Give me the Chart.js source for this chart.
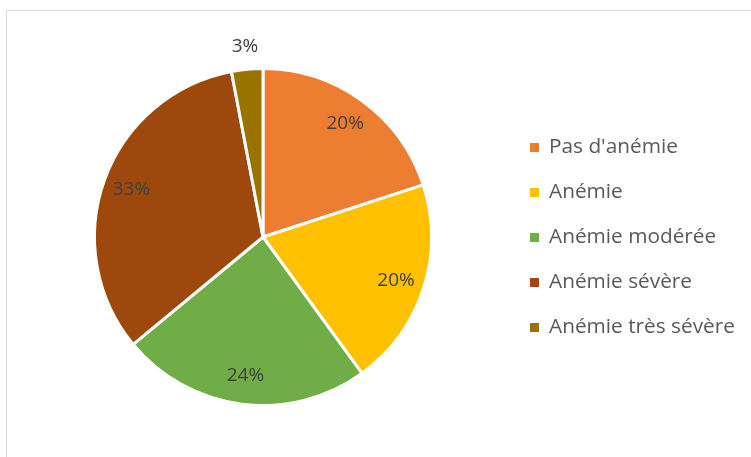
<!DOCTYPE html>
<html>
<head>
<meta charset="utf-8">
<script src="https://cdn.jsdelivr.net/npm/chart.js@4.4.1/dist/chart.umd.min.js"></script>
<style>
  html, body { margin: 0; padding: 0; background: #fff; }
  #wrap { position: relative; width: 751px; height: 457px; overflow: hidden; }
  #frame { position: absolute; left: 6px; top: 10px; width: 800px; height: 500px; border: 1px solid #d9d9d9; box-sizing: border-box; }
  canvas { position: absolute; left: 0; top: 0; }
</style>
</head>
<body>
<div id="wrap">
  <div id="frame"></div>
  <canvas id="pie" width="751" height="457"></canvas>
</div>
<script>
// categories + values (percent)
const categories = ["Pas d'anémie", 'Anémie', 'Anémie modérée', 'Anémie sévère', 'Anémie très sévère'];
const values = [20, 20, 24, 33, 3];
const colors = ['#ED7D31', '#FFC000', '#70AD47', '#9E480E', '#997300'];

const FONT = '"Open Sans", Lato, sans-serif';

// percent labels on the slices
const sliceLabels = {
  id: 'sliceLabels',
  afterDatasetsDraw(chart) {
    const ctx = chart.ctx;
    const meta = chart.getDatasetMeta(0);
    const total = values.reduce((a, b) => a + b, 0);
    ctx.save();
    ctx.font = '19px ' + FONT;
    ctx.fillStyle = '#404040';
    ctx.textAlign = 'center';
    ctx.textBaseline = 'middle';
    meta.data.forEach((arc, i) => {
      const p = arc.getProps(['x', 'y', 'startAngle', 'endAngle', 'outerRadius'], true);
      const mid = (p.startAngle + p.endAngle) / 2;
      const share = values[i] / total;
      const r = share < 0.05 ? p.outerRadius + 23 : p.outerRadius * 0.83;
      ctx.fillText(Math.round(share * 100) + '%', p.x + Math.cos(mid) * r, p.y + Math.sin(mid) * r);
    });
    ctx.restore();
  }
};

// legend on the right
const sideLegend = {
  id: 'sideLegend',
  afterDraw(chart) {
    const ctx = chart.ctx;
    ctx.save();
    ctx.font = '20.8px ' + FONT;
    ctx.textBaseline = 'middle';
    categories.forEach((c, i) => {
      const y = 147 + i * 45;
      ctx.fillStyle = colors[i];
      ctx.fillRect(530, y - 4, 9, 9);
      ctx.fillStyle = '#595959';
      ctx.fillText(c, 549, y);
    });
    ctx.restore();
  }
};

new Chart(document.getElementById('pie'), {
  type: 'pie',
  data: {
    labels: categories,
    datasets: [{
      data: values,
      backgroundColor: colors,
      borderColor: '#ffffff',
      borderWidth: 3
    }]
  },
  options: {
    responsive: false,
    animation: false,
    layout: { padding: { left: 93, right: 318, top: 67, bottom: 50 } },
    plugins: { legend: { display: false }, tooltip: { enabled: false } }
  },
  plugins: [sliceLabels, sideLegend]
});
</script>
</body>
</html>
